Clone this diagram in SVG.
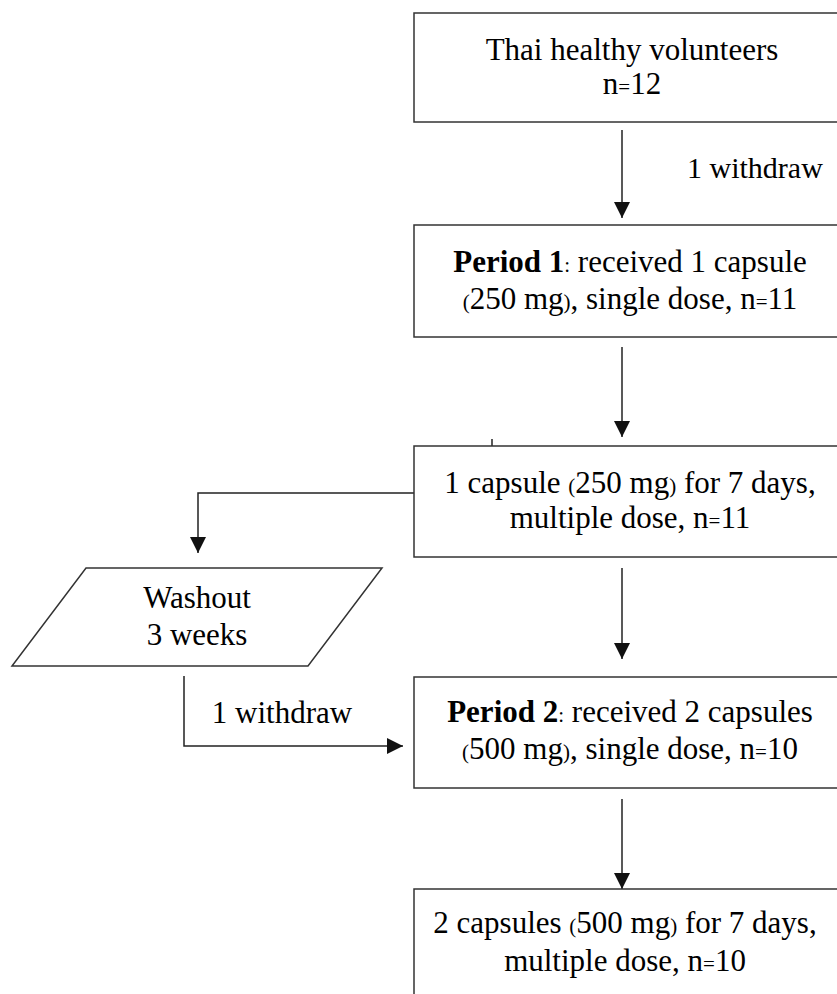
<svg xmlns="http://www.w3.org/2000/svg" width="837" height="994" viewBox="0 0 837 994">
<style>
.box{fill:#fff;stroke:#333;stroke-width:1.5}
.t{font-family:"Liberation Serif","Times New Roman",serif;font-size:31px;fill:#000;text-anchor:middle}
.tl{font-family:"Liberation Serif","Times New Roman",serif;font-size:30px;fill:#000}
.s{font-size:21px}
.b{font-weight:bold}
.c{fill:none;stroke:#222;stroke-width:1.5}
</style>
<defs>
<marker id="ah" markerUnits="userSpaceOnUse" markerWidth="16" markerHeight="18" refX="16" refY="8" orient="auto">
<path d="M0,0 L16,8 L0,16 Z" fill="#111"/>
</marker>
</defs>
<rect width="837" height="994" fill="#fff"/>
<g id="connectors">
<line class="c" x1="622" y1="130" x2="622" y2="218" marker-end="url(#ah)"/>
<line class="c" x1="622" y1="347" x2="622" y2="437" marker-end="url(#ah)"/>
<line class="c" x1="492" y1="439" x2="492" y2="446"/>
<polyline class="c" points="414,493 198,493 198,553" marker-end="url(#ah)"/>
<line class="c" x1="622" y1="568" x2="622" y2="659" marker-end="url(#ah)"/>
<polyline class="c" points="184,676 184,746 403,746" marker-end="url(#ah)"/>
<line class="c" x1="622" y1="799" x2="622" y2="889" marker-end="url(#ah)"/>
<text class="tl" x="687" y="178">1 withdraw</text>
<text class="t" x="282" y="723">1 withdraw</text>
</g>
<g id="n1">
<rect class="box" x="414" y="13" width="440" height="109"/>
<text class="t" x="632" y="60">Thai healthy volunteers</text>
<text class="t" x="632" y="94">n<tspan class="s">=</tspan>12</text>
</g>
<g id="n2">
<rect class="box" x="414" y="225" width="440" height="112"/>
<text class="t" x="630" y="272"><tspan class="b">Period 1</tspan><tspan class="s">:</tspan> received 1 capsule</text>
<text class="t" x="630" y="309"><tspan class="s">(</tspan>250 mg<tspan class="s">)</tspan>, single dose, n<tspan class="s">=</tspan>11</text>
</g>
<g id="n3">
<rect class="box" x="414" y="446" width="440" height="111"/>
<text class="t" x="630" y="493">1 capsule <tspan class="s">(</tspan>250 mg<tspan class="s">)</tspan> for 7 days,</text>
<text class="t" x="630" y="528">multiple dose, n<tspan class="s">=</tspan>11</text>
</g>
<g id="n4">
<polygon class="box" points="86,568 382,568 308,666 12,666"/>
<text class="t" x="197" y="608">Washout</text>
<text class="t" x="197" y="645">3 weeks</text>
</g>
<g id="n5">
<rect class="box" x="414" y="677" width="440" height="111"/>
<text class="t" x="630" y="722"><tspan class="b">Period 2</tspan><tspan class="s">:</tspan> received 2 capsules</text>
<text class="t" x="630" y="759"><tspan class="s">(</tspan>500 mg<tspan class="s">)</tspan>, single dose, n<tspan class="s">=</tspan>10</text>
</g>
<g id="n6">
<rect class="box" x="414" y="889" width="440" height="120"/>
<text class="t" x="625" y="933">2 capsules <tspan class="s">(</tspan>500 mg<tspan class="s">)</tspan> for 7 days,</text>
<text class="t" x="625" y="971">multiple dose, n<tspan class="s">=</tspan>10</text>
</g>
</svg>
